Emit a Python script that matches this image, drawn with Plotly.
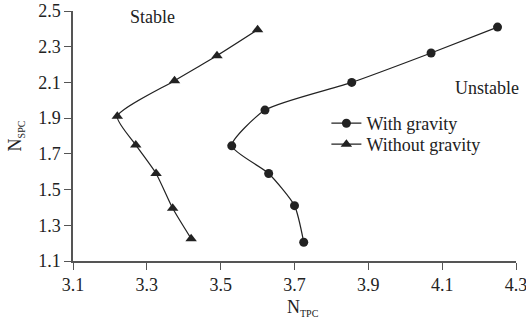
import plotly.graph_objects as go

# Neutral stability boundary: N_SPC versus N_TPC
with_gravity_x = [4.25, 4.07, 3.855, 3.62, 3.53, 3.63, 3.70, 3.725]
with_gravity_y = [2.41, 2.265, 2.10, 1.945, 1.745, 1.59, 1.41, 1.205]

without_gravity_x = [3.60, 3.49, 3.375, 3.22, 3.27, 3.325, 3.37, 3.42]
without_gravity_y = [2.395, 2.25, 2.11, 1.91, 1.75, 1.59, 1.395, 1.225]

x_ticks = [3.1, 3.3, 3.5, 3.7, 3.9, 4.1, 4.3]
y_ticks = [1.1, 1.3, 1.5, 1.7, 1.9, 2.1, 2.3, 2.5]

ink = "#222222"
serif = "Liberation Serif, Times New Roman, serif"
fs = 18

fig = go.Figure()
fig.add_trace(go.Scatter(
    x=with_gravity_x, y=with_gravity_y, name="With gravity",
    mode="lines+markers", legend="legend",
    line=dict(color=ink, width=1.2, shape="spline", smoothing=0.6),
    marker=dict(symbol="circle", size=9, color=ink),
))
fig.add_trace(go.Scatter(
    x=without_gravity_x, y=without_gravity_y, name="Without gravity",
    mode="lines+markers", legend="legend2",
    line=dict(color=ink, width=1.2, shape="spline", smoothing=0.6),
    marker=dict(symbol="triangle-up", size=10, color=ink),
))

axis_common = dict(
    showgrid=False, zeroline=False, showline=True, linecolor="#555555",
    linewidth=1.5, ticks="outside", ticklen=7, tickcolor="#555555",
    tickwidth=1.2, tickfont=dict(family=serif, size=fs, color=ink),
    automargin=False, ticklabeloverflow="allow",
)

fig.update_xaxes(
    range=[3.1, 4.3], tickvals=x_ticks, ticktext=[f"{v:.1f}" for v in x_ticks],
    **axis_common,
)
fig.update_yaxes(
    range=[1.1, 2.5], tickvals=y_ticks, ticktext=[f"{v:.1f}" for v in y_ticks],
    title=dict(text="N<sub><span style='font-size:10px'>SPC</span></sub>",
               font=dict(family=serif, size=fs, color=ink), standoff=12),
    **axis_common,
)

# x-axis title, set slightly right of centre
fig.add_annotation(text="N<sub><span style='font-size:10px'>TPC</span></sub>",
                   x=0.52, y=-0.188, xref="paper", yref="paper",
                   xanchor="center", yanchor="middle", showarrow=False,
                   font=dict(family=serif, size=fs, color=ink))

fig.add_annotation(text="Stable", x=3.314, y=2.468, xref="x", yref="y",
                   showarrow=False, font=dict(family=serif, size=fs, color=ink))
fig.add_annotation(text="Unstable", x=4.222, y=2.07, xref="x", yref="y",
                   showarrow=False, font=dict(family=serif, size=fs, color=ink))

legend_style = dict(xanchor="left", yanchor="middle", bgcolor="rgba(0,0,0,0)",
                    font=dict(family=serif, size=fs, color=ink),
                    itemwidth=30, borderwidth=0)

fig.update_layout(
    width=526, height=322,
    margin=dict(l=73, r=10, t=11, b=61),
    paper_bgcolor="white", plot_bgcolor="white",
    showlegend=True,
    legend=dict(x=0.572, y=0.55, **legend_style),
    legend2=dict(x=0.572, y=0.466, **legend_style),
    font=dict(family=serif, color=ink),
)

fig.write_html("out.html")
